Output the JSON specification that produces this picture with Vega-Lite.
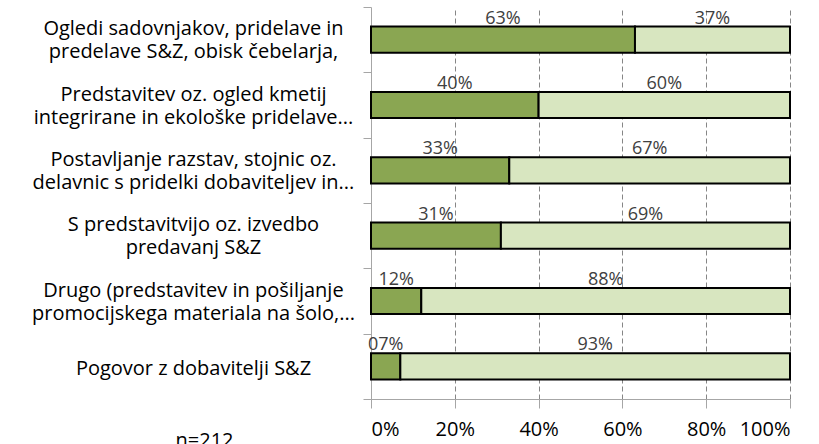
{
  "$schema": "https://vega.github.io/schema/vega-lite/v6.json",
  "width": 419,
  "height": 392,
  "autosize": {"type": "none"},
  "padding": {"left": 371, "top": 7, "right": 29, "bottom": 45},
  "background": "white",
  "config": {"view": {"stroke": null}, "font": "Open Sans"},
  "data": {
    "values": [
      {"cat": "Ogledi sadovnjakov, pridelave in|predelave S&Z, obisk čebelarja,", "series": "a", "value": 63, "txt": "63%"},
      {"cat": "Ogledi sadovnjakov, pridelave in|predelave S&Z, obisk čebelarja,", "series": "b", "value": 37, "txt": "37%"},
      {"cat": "Predstavitev oz. ogled kmetij|integrirane in ekološke pridelave...", "series": "a", "value": 40, "txt": "40%"},
      {"cat": "Predstavitev oz. ogled kmetij|integrirane in ekološke pridelave...", "series": "b", "value": 60, "txt": "60%"},
      {"cat": "Postavljanje razstav, stojnic oz.|delavnic s pridelki dobaviteljev in...", "series": "a", "value": 33, "txt": "33%"},
      {"cat": "Postavljanje razstav, stojnic oz.|delavnic s pridelki dobaviteljev in...", "series": "b", "value": 67, "txt": "67%"},
      {"cat": "S predstavitvijo oz. izvedbo|predavanj S&Z", "series": "a", "value": 31, "txt": "31%"},
      {"cat": "S predstavitvijo oz. izvedbo|predavanj S&Z", "series": "b", "value": 69, "txt": "69%"},
      {"cat": "Drugo (predstavitev in pošiljanje|promocijskega materiala na šolo,...", "series": "a", "value": 12, "txt": "12%"},
      {"cat": "Drugo (predstavitev in pošiljanje|promocijskega materiala na šolo,...", "series": "b", "value": 88, "txt": "88%"},
      {"cat": "Pogovor z dobavitelji S&Z", "series": "a", "value": 7, "txt": "07%"},
      {"cat": "Pogovor z dobavitelji S&Z", "series": "b", "value": 93, "txt": "93%"}
    ]
  },
  "transform": [
    {"stack": "value", "groupby": ["cat"], "sort": [{"field": "series"}], "as": ["v0", "v1"]}
  ],
  "encoding": {
    "y": {
      "field": "cat",
      "type": "nominal",
      "sort": null,
      "scale": {"paddingInner": 0, "paddingOuter": 0},
      "axis": {
        "title": null,
        "domainColor": "#a6a6a6",
        "tickColor": "#a6a6a6",
        "tickSize": 8,
        "tickBand": "extent",
        "labelAlign": "center",
        "labelBaseline": "middle",
        "labelPadding": 170,
        "labelOffset": {"condition": {"test": "indexof(datum.label, '|') < 0", "value": 2}, "value": -11},
        "labelFontSize": 20,
        "labelLineHeight": 23,
        "labelColor": "#000000",
        "labelLimit": 0,
        "labelExpr": "split(datum.label, '|')"
      }
    }
  },
  "layer": [
    {
      "mark": {"type": "bar", "height": {"band": 0.4}, "stroke": "#000000", "strokeWidth": 2},
      "encoding": {
        "x": {
          "field": "v0",
          "type": "quantitative",
          "scale": {"domain": [0, 100], "nice": false},
          "axis": {
            "values": [0, 20, 40, 60, 80, 100],
            "labelExpr": "datum.value + '%'",
            "grid": true,
            "gridDash": [5, 3],
            "gridColor": "#868686",
            "domainColor": "#a6a6a6",
            "tickColor": "#a6a6a6",
            "tickSize": 9,
            "labelPadding": 11,
            "labelFontSize": 20,
            "labelColor": "#000000",
            "title": "n=212",
            "titleX": -167,
            "titleY": 31,
            "titleAlign": "center",
            "titleBaseline": "top",
            "titleFontSize": 20,
            "titleFontWeight": "normal",
            "titleColor": "#000000"
          }
        },
        "x2": {"field": "v1"},
        "color": {
          "field": "series",
          "type": "nominal",
          "scale": {"domain": ["a", "b"], "range": ["#8aa652", "#d8e6c0"]},
          "legend": null
        }
      }
    },
    {
      "mark": {"type": "text", "baseline": "middle", "align": "center", "yOffset": -21, "fontSize": 18, "color": "#404040", "dx": {"expr": "scale('x', datum.value) / 2"}},
      "encoding": {
        "x": {"field": "v0", "type": "quantitative"},
        "text": {"field": "txt"}
      }
    }
  ]
}
